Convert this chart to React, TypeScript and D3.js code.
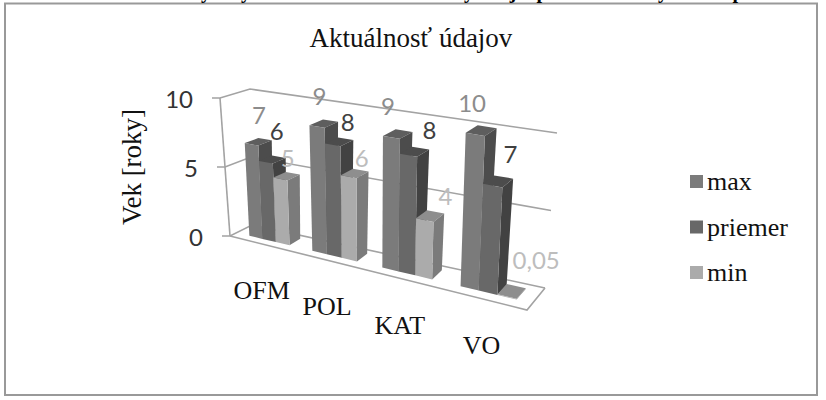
import React, { useEffect, useRef } from "react";
import * as d3 from "d3";

const categories = ["OFM", "POL", "KAT", "VO"];
const seriesNames = ["max", "priemer", "min"];
const maxValues = [6.7, 8.8, 8.9, 10];
const avgValues = [5.6, 7.7, 7.9, 6.9];
const minValues = [4.6, 5.7, 3.8, 0.05];
const yTicks = [0, 5, 10];
const title = "Aktuálnosť údajov";
const yTitle = "Vek [roky]";
// cut off line of the document above the chart, only the descenders show
const clippedLetters = ["y", "y", "y", "j", "p", "y", "p"];

const App: React.FC = () => {
  const svgRef = useRef<SVGSVGElement | null>(null);

  useEffect(() => {
    const width = 826;
    const height = 400;
    const svg = d3.select(svgRef.current).attr("viewBox", [0, 0, width, height]);
    svg.selectAll("*").remove();

    const serif = "'Liberation Serif', serif";
    const sans = "Lato, 'Noto Sans', sans-serif";

    // box corners on screen: [front/back][left/right][bottom/top]
    const box = {
      flb: [230, 236],
      frb: [527, 310],
      blb: [252, 225],
      brb: [545, 288],
      flt: [220, 98],
      frt: [535, 150],
      blt: [250, 89],
      brt: [557, 133],
    };

    const perspective = 1.25;
    const warp = (u: number) => u / (u + (1 - u) * perspective);
    const yNorm = d3.scaleLinear().domain([0, 10]).range([0, 1]);
    const lerp = (a: number[], b: number[], t: number) => [
      a[0] + (b[0] - a[0]) * t,
      a[1] + (b[1] - a[1]) * t,
    ];

    // u along categories, z depth, value up the wall
    const project = (u: number, z: number, value: number) => {
      const w = warp(u);
      const v = yNorm(value);
      const front = lerp(lerp(box.flb, box.frb, w), lerp(box.flt, box.frt, w), v);
      const back = lerp(lerp(box.blb, box.brb, w), lerp(box.blt, box.brt, w), v);
      return lerp(front, back, z);
    };

    const x0 = d3
      .scaleBand()
      .domain(categories)
      .range([0.01, 1])
      .paddingInner(0.35)
      .paddingOuter(0.175);
    const x1 = d3.scaleBand().domain(seriesNames).range([0, x0.bandwidth()]);

    const zFront = 0.3;
    const zBack = 0.8;

    const gridColor = "#a3a3a3";
    const line = d3.line();
    const drawLine = (pts: number[][]) =>
      svg
        .append("path")
        .attr("d", line(pts as [number, number][]))
        .attr("fill", "none")
        .attr("stroke", gridColor)
        .attr("stroke-width", 1.6);

    // walls
    yTicks.forEach((t) => {
      const left = project(0, 0, t);
      drawLine([[left[0] - 8, left[1]], left, project(0, 1, t), project(1, 1, t)]);
    });
    drawLine([project(0, 0, 0), project(0, 0, 10)]);
    drawLine([project(0, 0, 0), project(1, 0, 0), project(1, 1, 0)]);

    // tick labels
    svg
      .append("g")
      .selectAll("text")
      .data(yTicks)
      .enter()
      .append("text")
      .attr("x", (d) => project(0, 0, d)[0] - 27)
      .attr("y", (d) => project(0, 0, d)[1] + 2)
      .attr("dy", "0.35em")
      .attr("text-anchor", "end")
      .attr("font-family", sans)
      .attr("font-size", 24)
      .attr("fill", "#333")
      .text((d) => d);

    const colors: Record<string, { front: string; top: string; side: string; label: string }> = {
      max: { front: "#7b7b7b", top: "#5e5e5e", side: "#4c4c4c", label: "#8c8c8c" },
      priemer: { front: "#686868", top: "#4c4c4c", side: "#424242", label: "#404040" },
      min: { front: "#ababab", top: "#8e8e8e", side: "#7b7b7b", label: "#bdbdbd" },
    };
    const seriesValues = [maxValues, avgValues, minValues];
    const formatValue = (v: number) =>
      v < 1 ? String(v).replace(".", ",") : d3.format(".0f")(v);

    // hand placed data labels, like in the original chart
    const labelNudge = [
      [[-6, -24], [-11, -24], [-16, -24], [-15, -23]],
      [[-2, -25], [2, -16], [9, -17], [7, -22]],
      [[-5, -15], [1, -11], [10, -15], [20, -25]],
    ];

    const poly = (pts: number[][], fill: string) =>
      svg
        .append("polygon")
        .attr("points", pts.map((p) => p.join(",")).join(" "))
        .attr("fill", fill);

    const labels: { p: number[]; text: string; color: string }[] = [];

    categories.forEach((cat, c) => {
      seriesNames.forEach((name, s) => {
        const value = seriesValues[s][c];
        const u0 = (x0(cat) as number) + (x1(name) as number);
        const u1 = u0 + x1.bandwidth();
        const col = colors[name];
        poly(
          [
            project(u0, zFront, value),
            project(u1, zFront, value),
            project(u1, zBack, value),
            project(u0, zBack, value),
          ],
          col.top,
        );
        poly(
          [
            project(u1, zFront, 0),
            project(u1, zBack, 0),
            project(u1, zBack, value),
            project(u1, zFront, value),
          ],
          col.side,
        );
        poly(
          [
            project(u0, zFront, 0),
            project(u1, zFront, 0),
            project(u1, zFront, value),
            project(u0, zFront, value),
          ],
          col.front,
        );
        const top = project((u0 + u1) / 2, zBack, value);
        labels.push({
          p: [top[0] + labelNudge[s][c][0], top[1] + labelNudge[s][c][1]],
          text: formatValue(value),
          color: col.label,
        });
      });
    });

    svg
      .append("g")
      .selectAll("text")
      .data(labels)
      .enter()
      .append("text")
      .attr("x", (d) => d.p[0])
      .attr("y", (d) => d.p[1])
      .attr("dy", "0.35em")
      .attr("text-anchor", "middle")
      .attr("font-family", sans)
      .attr("font-size", 24)
      .attr("fill", (d) => d.color)
      .text((d) => d.text);

    // category labels hang below the front edge
    svg
      .append("g")
      .selectAll("text")
      .data(categories)
      .enter()
      .append("text")
      .attr("x", (d) => project((x0(d) as number) + x0.bandwidth() / 2, 0, 0)[0] - 1)
      .attr("y", (d) => project((x0(d) as number) + x0.bandwidth() / 2, 0, 0)[1] + 55)
      .attr("text-anchor", "middle")
      .attr("font-family", serif)
      .attr("font-size", 26)
      .attr("fill", "#111")
      .text((d) => d);

    // title
    svg
      .append("text")
      .attr("x", 411)
      .attr("y", 47)
      .attr("text-anchor", "middle")
      .attr("font-family", serif)
      .attr("font-size", 27)
      .attr("fill", "#111")
      .text(title);

    // y axis title
    svg
      .append("text")
      .attr("transform", "translate(141,167) rotate(-90)")
      .attr("text-anchor", "middle")
      .attr("font-family", serif)
      .attr("font-size", 27)
      .attr("fill", "#111")
      .text(yTitle);

    // legend
    const legend = svg
      .append("g")
      .selectAll("g")
      .data(seriesNames)
      .enter()
      .append("g")
      .attr("transform", (_, i) => `translate(690,${175 + i * 45.5})`);
    legend
      .append("rect")
      .attr("width", 13)
      .attr("height", 13)
      .attr("fill", (d) => colors[d].front);
    legend
      .append("text")
      .attr("x", 17)
      .attr("y", 15)
      .attr("font-family", serif)
      .attr("font-size", 26)
      .attr("fill", "#111")
      .text((d) => d);

    // frame
    svg
      .append("rect")
      .attr("x", 5)
      .attr("y", 3.5)
      .attr("width", 812)
      .attr("height", 391.5)
      .attr("fill", "none")
      .attr("stroke", "#999")
      .attr("stroke-width", 2);

    const clippedX = [206, 246, 469, 513, 542, 663, 738];
    svg
      .append("g")
      .selectAll("text")
      .data(clippedLetters)
      .enter()
      .append("text")
      .attr("x", (_, i) => clippedX[i])
      .attr("y", -2.5)
      .attr("text-anchor", "middle")
      .attr("font-family", serif)
      .attr("font-size", 20)
      .attr("font-weight", "bold")
      .attr("fill", "#000")
      .text((d) => d);
  }, []);

  return (
    <svg
      ref={svgRef}
      width={826}
      height={400}
      style={{ position: "absolute", left: 0, top: 0, display: "block", background: "#fff" }}
    ></svg>
  );
};

export default App;
